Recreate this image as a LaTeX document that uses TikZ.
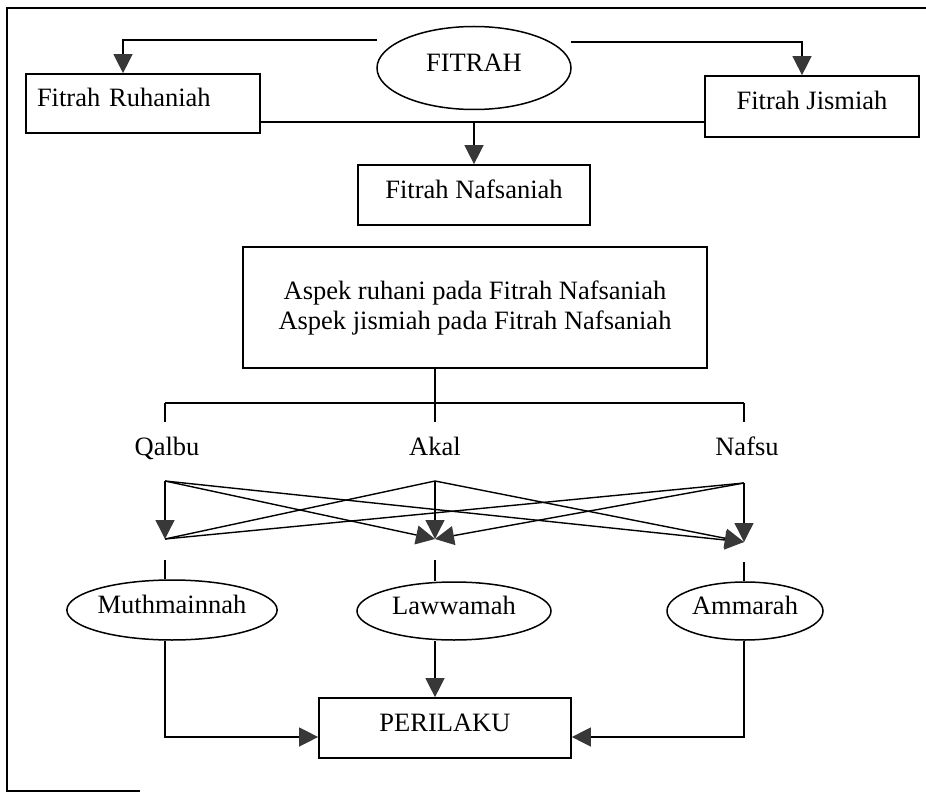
\documentclass[tikz,border=0pt]{standalone}
\usepackage{fontspec}
\setmainfont{Liberation Serif}
\usetikzlibrary{arrows.meta,shapes.geometric}
\definecolor{headgray}{HTML}{383838}
\begin{document}
\begin{tikzpicture}[x=1pt,y=-1pt,
  font=\fontsize{26.5}{30}\selectfont,
  ln/.style={line width=1.4pt, black},
  arr/.style={ln, -{Triangle[width=19pt,length=19pt,fill=headgray,color=headgray]}},
  boxn/.style={draw, line width=1.7pt, inner sep=0pt, text height=0.66em, text depth=0pt},
  elln/.style={draw, ellipse, line width=1.5pt, inner sep=0pt, text height=0.66em, text depth=0pt},
  lbl/.style={anchor=base, inner sep=0pt}]
\useasboundingbox (0,0) rectangle (926,794);
% frame (right side cut off in the reference)
\draw[line width=2pt] (945,8) -- (7,8) -- (7,791) -- (140,791);

% top level
\node[elln, minimum width=194pt, minimum height=83pt] (fit) at (474,68) {FITRAH};
\node[boxn, minimum width=234pt, minimum height=59pt, text width=212pt, align=left] (ru) at (143,103.5) {Fitrah Ruhaniah};
\node[boxn, minimum width=214pt, minimum height=61pt] (ji) at (812,106.5) {Fitrah Jismiah};
\node[boxn, minimum width=232pt, minimum height=60pt] (naf) at (474,195) {Fitrah Nafsaniah};
\node[draw, line width=1.7pt, minimum width=464pt, minimum height=121pt, align=center] (asp) at (475,307.5)
  {Aspek ruhani pada Fitrah Nafsaniah\\Aspek jismiah pada Fitrah Nafsaniah};

\coordinate (fl) at (377,40);
\coordinate (fr) at (571,42);
\coordinate (hy) at (0,122);

\draw[arr] (fl) -| ([xshift=-20pt]ru.north);
\draw[arr] (fr) -| ([xshift=-10pt]ji.north);
\draw[ln] (ru.east |- hy) -- (ji.west |- hy);
\draw[arr] (naf.north |- hy) -- (naf.north);

% branching bar
\coordinate (bq) at (165,403);
\coordinate (ba) at (435,403);
\coordinate (bn) at (744,403);
\coordinate (tk) at (0,422);
\draw[ln] (asp.south -| ba) -- (ba);
\draw[ln] (bq) -- (bn);
\foreach \c in {bq,ba,bn} \draw[ln] (\c) -- (\c |- tk);

\node[lbl] (qal) at (167,455) {Qalbu};
\node[lbl] (aka) at (435,455) {Akal};
\node[lbl] (nfs) at (747,455) {Nafsu};

% crossing arrows
\coordinate (qo) at (165,481);
\coordinate (ao) at (435,481);
\coordinate (no) at (744,483);
\coordinate (qtg) at (165,539);
\coordinate (atg) at (435,539);
\coordinate (ntg) at (744,542);

\draw[ln] (ao) -- (qtg);
\draw[ln] (no) -- (qtg);
\draw[arr] (qo) -- (atg);
\draw[arr] (no) -- (atg);
\draw[arr] (qo) -- (ntg);
\draw[arr] (ao) -- (ntg);
\draw[arr] (qo) -- (qtg);
\draw[arr] (ao) -- (atg);
\draw[arr] (no) -- (ntg);

% nafs ellipses
\coordinate (q1) at (165,560);
\coordinate (a1) at (435,560);
\coordinate (n1) at (744,562);
\node[elln, minimum width=176pt, minimum height=60pt] (mu) at (172,610) {Muthmainnah};
\node[elln, minimum width=194pt, minimum height=58pt] (law) at (454,611) {Lawwamah};
\node[elln, minimum width=156pt, minimum height=58pt] (am) at (745,611) {Ammarah};

\draw[ln] (q1) -- (mu.north -| q1);
\draw[ln] (a1) -- (law.north -| a1);
\draw[ln] (n1) -- (am.north -| n1);

% behaviour
\node[boxn, minimum width=252pt, minimum height=60pt] (per) at (445,728) {PERILAKU};
\coordinate (ly) at (0,737);
\draw[arr] (mu.south -| q1) |- (per.west |- ly);
\draw[arr] (am.south -| n1) |- (per.east |- ly);
\draw[arr] (law.south -| a1) -- (per.north -| a1);
\end{tikzpicture}
\end{document}
